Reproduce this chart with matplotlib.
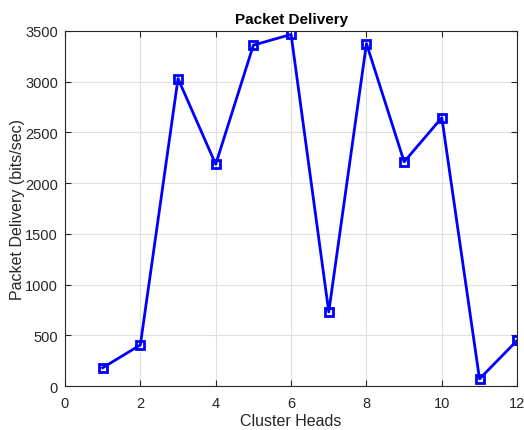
import matplotlib
matplotlib.use('Agg')
import matplotlib.pyplot as plt

plt.rcParams['font.family'] = ['Liberation Sans', 'DejaVu Sans']

cluster_heads = [1, 2, 3, 4, 5, 6, 7, 8, 9, 10, 11, 12]
packet_delivery = [180, 405, 3030, 2185, 3360, 3465, 730, 3375, 2210, 2645, 70, 450]

fig = plt.figure(figsize=(5.24, 4.31), dpi=100)
ax = fig.add_axes([0.124, 0.102, 0.863, 0.824])

ax.plot(cluster_heads, packet_delivery, color='#0000ff', linewidth=2,
        marker='s', markersize=6, markerfacecolor='none',
        markeredgecolor='#0000ff', markeredgewidth=2)

ax.set_xlim(0, 12)
ax.set_ylim(0, 3500)
ax.set_xticks(range(0, 13, 2))
ax.set_yticks(range(0, 3501, 500))
ax.grid(True, color='#e0e0e0', linewidth=0.8)
ax.set_axisbelow(True)
ax.tick_params(direction='in', length=4, labelsize=10.5, colors='#262626',
               top=True, right=True)
ax.tick_params(axis='x', pad=7)
ax.tick_params(axis='y', pad=5)
for s in ax.spines.values():
    s.set_color('#262626')
    s.set_linewidth(0.8)

ax.set_xlabel('Cluster Heads', fontsize=11.5, color='#262626', labelpad=2)
ax.set_ylabel('Packet Delivery (bits/sec)', fontsize=11.5, color='#262626', labelpad=0)
ax.set_title('Packet Delivery', fontsize=11, fontweight='bold', pad=6)

fig.savefig('out.png', dpi=100)
